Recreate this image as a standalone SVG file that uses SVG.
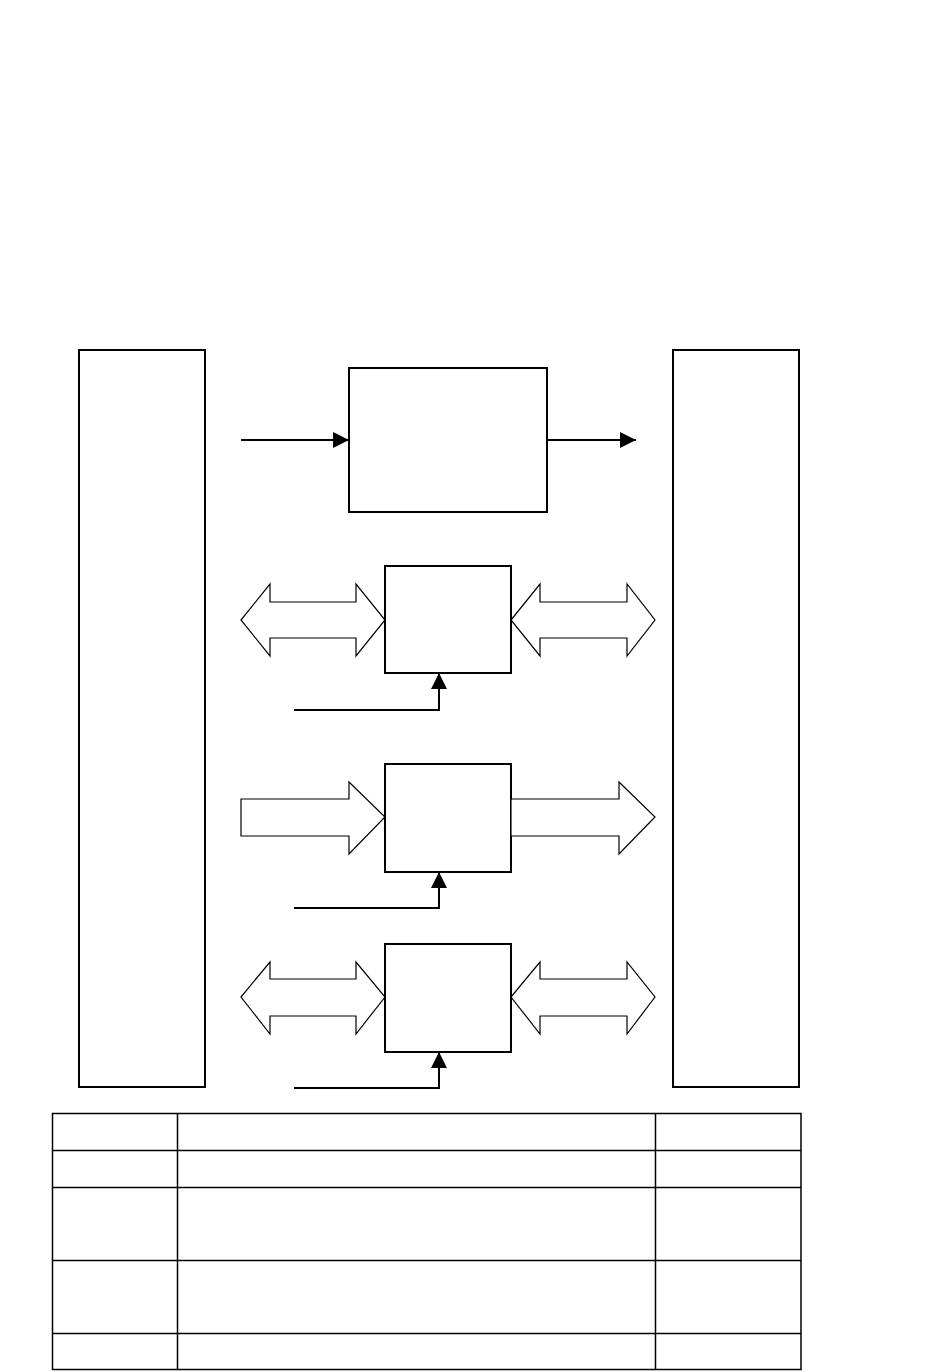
<svg xmlns="http://www.w3.org/2000/svg" width="943" height="1372" viewBox="0 0 943 1372">
<style>
.box{fill:#fff;stroke:#000;stroke-width:2}
.big{fill:#fff;stroke:#000;stroke-width:2}
.hollow{fill:#fff;stroke:#000;stroke-width:1.2;stroke-linejoin:miter}
.wire{fill:none;stroke:#000;stroke-width:2}
.tbl{fill:none;stroke:#000;stroke-width:1.5}
</style>
<defs>
<marker id="ah" markerWidth="16" markerHeight="16" viewBox="0 0 16 16" refX="16" refY="8" orient="auto" markerUnits="userSpaceOnUse">
<path d="M0,0 L16,8 L0,16 Z" fill="#000"/>
</marker>
</defs>
<rect width="943" height="1372" fill="#fff"/>
<g id="leftPanel"><rect class="big" x="79" y="350" width="126" height="737"/></g>
<g id="rightPanel"><rect class="big" x="673" y="350" width="126" height="737"/></g>
<g id="block1"><rect class="box" x="349" y="368" width="198" height="144"/></g>
<g id="block2"><rect class="box" x="385" y="566" width="126" height="107"/></g>
<g id="block3"><rect class="box" x="385" y="764" width="126" height="108"/></g>
<g id="block4"><rect class="box" x="385" y="944" width="126" height="108"/></g>
<g id="connectors">
<line class="wire" x1="241" y1="440" x2="349" y2="440" marker-end="url(#ah)"/>
<line class="wire" x1="547" y1="440" x2="636" y2="440" marker-end="url(#ah)"/>
<polygon class="hollow" points="241,620 270,584 270,602 356,602 356,584 385,620 356,656 356,638 270,638 270,656"/>
<polygon class="hollow" points="511,620 540,584 540,602 627,602 627,584 655,620 627,656 627,638 540,638 540,656"/>
<polyline class="wire" points="294,710 439,710 439,673" marker-end="url(#ah)"/>
<polygon class="hollow" points="241,799 349,799 349,782 385,817 349,854 349,836 241,836"/>
<polygon class="hollow" points="511,799 619,799 619,782 655,817 619,854 619,836 511,836"/>
<polyline class="wire" points="294,908 439,908 439,872" marker-end="url(#ah)"/>
<polygon class="hollow" points="241,997 270,962 270,979 356,979 356,962 385,997 356,1034 356,1016 270,1016 270,1034"/>
<polygon class="hollow" points="511,997 540,962 540,979 627,979 627,962 655,997 627,1034 627,1016 540,1016 540,1034"/>
<polyline class="wire" points="294,1088 439,1088 439,1052" marker-end="url(#ah)"/>
</g>
<g id="table">
<rect class="tbl" x="52.5" y="1113.5" width="748.5" height="256"/>
<line class="tbl" x1="177.5" y1="1113.5" x2="177.5" y2="1369.5"/>
<line class="tbl" x1="655.5" y1="1113.5" x2="655.5" y2="1369.5"/>
<line class="tbl" x1="52.5" y1="1150.5" x2="801" y2="1150.5"/>
<line class="tbl" x1="52.5" y1="1187.5" x2="801" y2="1187.5"/>
<line class="tbl" x1="52.5" y1="1260.5" x2="801" y2="1260.5"/>
<line class="tbl" x1="52.5" y1="1333.5" x2="801" y2="1333.5"/>
</g>
</svg>
